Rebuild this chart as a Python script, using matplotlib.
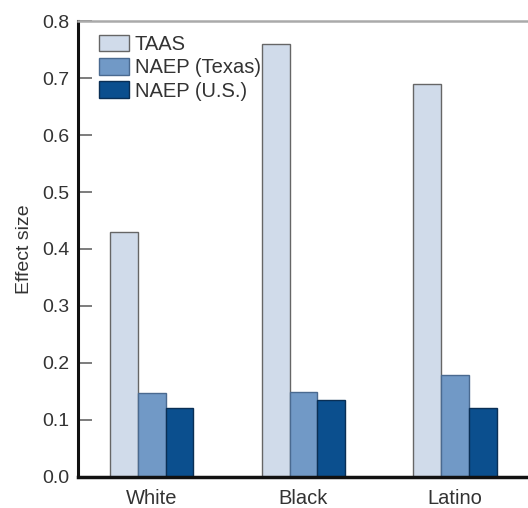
import matplotlib
matplotlib.use("Agg")
import matplotlib.pyplot as plt
import numpy as np

plt.rcParams['font.family'] = ['Liberation Sans', 'DejaVu Sans']

categories = ["White", "Black", "Latino"]
series_names = ["TAAS", "NAEP (Texas)", "NAEP (U.S.)"]
taas = [0.43, 0.76, 0.69]
naep_texas = [0.147, 0.148, 0.179]
naep_us = [0.120, 0.134, 0.121]
yticks = [0.0, 0.1, 0.2, 0.3, 0.4, 0.5, 0.6, 0.7, 0.8]

colors = ["#d0dbea", "#7199c6", "#0b4f8e"]
edges = ["#666666", "#4a6a90", "#0a2f55"]

fig = plt.figure(figsize=(5.28, 5.08), dpi=100)
ax = fig.add_axes([0.148, 0.0617, 0.874, 0.8965])

x = np.arange(len(categories))
w = 0.183
for i, (vals, name) in enumerate(zip([taas, naep_texas, naep_us], series_names)):
    ax.bar(x + (i - 1) * w, vals, width=w, color=colors[i], edgecolor=edges[i],
           linewidth=1.0, label=name)

ax.set_xlim(-0.486, 2.558)
ax.set_ylim(0, 0.8)
ax.set_yticks(yticks)
ax.set_yticklabels([f"{v:.1f}" for v in yticks], fontsize=14, color="#333333")
ax.set_xticks(x)
ax.set_xticklabels(categories, fontsize=14.5, color="#333333")
ax.tick_params(axis='x', length=0, pad=9)
ax.tick_params(axis='y', direction='in', length=10, width=1.2, color='#666666', pad=6)
ax.set_ylabel("Effect size", fontsize=14, color="#333333", labelpad=7)

ax.spines['left'].set_linewidth(2.2)
ax.spines['left'].set_color('#111111')
ax.spines['bottom'].set_linewidth(2.5)
ax.spines['bottom'].set_color('#111111')
ax.spines['top'].set_linewidth(1.8)
ax.spines['top'].set_color('#aaaaaa')
ax.spines['right'].set_visible(False)

leg = ax.legend(loc='upper left', bbox_to_anchor=(0.02, 0.997), frameon=False,
                fontsize=14.5, handlelength=1.45, handleheight=0.9,
                labelspacing=0.2, handletextpad=0.3, borderaxespad=0.2)
for t in leg.get_texts():
    t.set_color("#333333")

fig.savefig("out.png", dpi=100)
